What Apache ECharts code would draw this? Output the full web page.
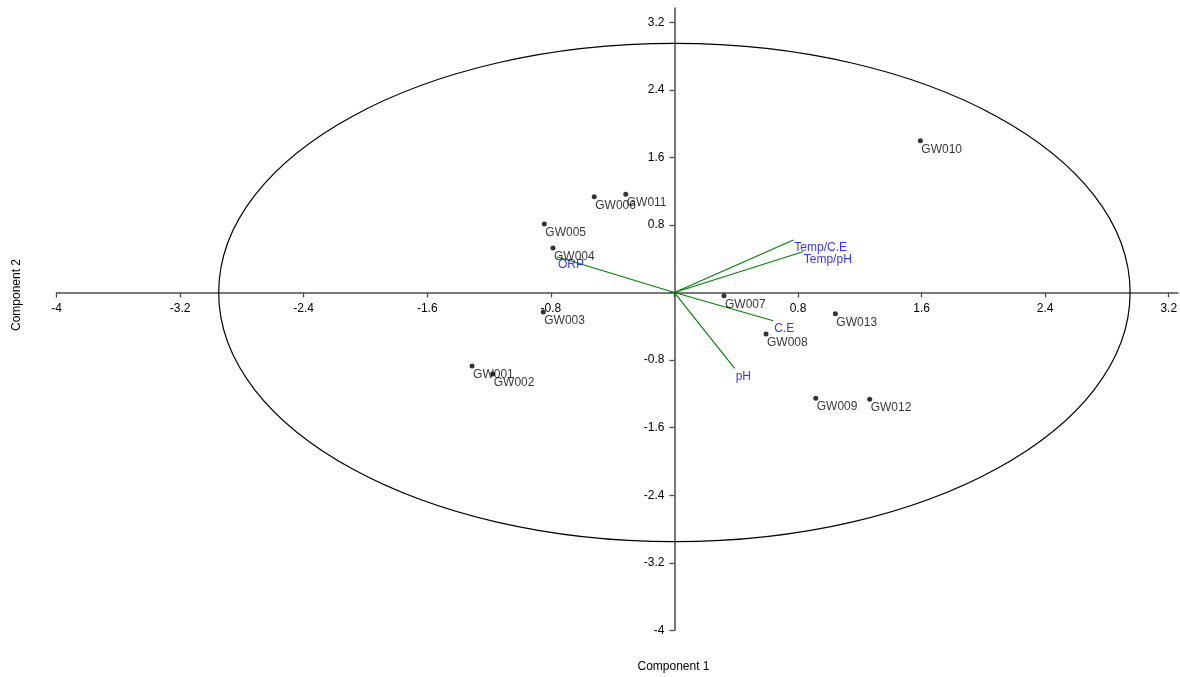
<!DOCTYPE html>
<html>
<head>
<meta charset="utf-8">
<script src="https://cdn.jsdelivr.net/npm/echarts@6/dist/echarts.min.js"></script>
<style>
html,body{margin:0;padding:0;background:#fff;}
#chart{width:1180px;height:677px;}
</style>
</head>
<body>
<div id="chart"></div>
<script>
// Sample scores (Component 1, Component 2)
const pointNames = ['GW001','GW002','GW003','GW004','GW005','GW006','GW007','GW008','GW009','GW010','GW011','GW012','GW013'];
const pointX = [-1.310,-1.176,-0.849,-0.786,-0.842,-0.519,0.321,0.593,0.915,1.592,-0.315,1.264,1.042];
const pointY = [-0.870,-0.965,-0.231,0.527,0.811,1.134,-0.038,-0.491,-1.253,1.797,1.163,-1.265,-0.251];

// Variable loadings (biplot vectors)
const varNames = ['Temp/C.E','Temp/pH','C.E','pH','ORP'];
const varX = [0.770,0.831,0.640,0.390,-0.760];
const varY = [0.622,0.483,-0.334,-0.898,0.425];

// Confidence ellipse radius (data units)
const ellipseRadius = 2.95;

// Axis ticks
const xTicks = [-4,-3.2,-2.4,-1.6,-0.8,0,0.8,1.6,2.4,3.2];
const yTicks = [-4,-3.2,-2.4,-1.6,-0.8,0,0.8,1.6,2.4,3.2];

const FONT = "'Liberation Sans', Arial, sans-serif";

const chart = echarts.init(document.getElementById('chart'), null, {renderer:'canvas'});

const scoreData = pointNames.map((n,i)=>({name:n, value:[pointX[i], pointY[i]]}));
const varData = varNames.map((n,i)=>({name:n, value:[varX[i], varY[i]]}));

const axisCommon = (ticks)=>({
  type:'value',
  splitLine:{show:false},
  axisLine:{onZero:false, lineStyle:{color:'#4d4d4d', width:1.5}},
  axisTick:{customValues:ticks, length:5, lineStyle:{color:'#4d4d4d', width:1.3}},
  axisLabel:{customValues:ticks, margin:10, color:'#000', fontSize:12, fontFamily:FONT,
    formatter:v=> v===0 ? '' : String(v)}
});

const option = {
  animation:false,
  backgroundColor:'#ffffff',
  grid:{left:56.5, right:2, top:8, bottom:46.7, containLabel:false, outerBoundsMode:'none'},
  xAxis:Object.assign(axisCommon(xTicks), {min:-4, max:3.26, position:'bottom', offset:0}),
  yAxis:Object.assign(axisCommon(yTicks), {min:-4, max:3.37, position:'left', offset:0}),
  graphic:[
    {type:'text', x:673.5, y:667, style:{text:'Component 1', fill:'#000', font:'12px '+FONT, textAlign:'center', textVerticalAlign:'middle'}},
    {type:'text', x:17, y:295, rotation:Math.PI/2, style:{text:'Component 2', fill:'#000', font:'12px '+FONT, textAlign:'center', textVerticalAlign:'middle'}}
  ],
  series:[
    {
      type:'custom', silent:true, clip:false,
      data:[[0,0,ellipseRadius]],
      renderItem:(params, api)=>{
        const c = api.coord([api.value(0), api.value(1)]);
        const s = api.size([api.value(2), api.value(2)]);
        return {type:'ellipse', shape:{cx:c[0], cy:c[1], rx:s[0], ry:s[1]},
          style:{fill:'none', stroke:'#000', lineWidth:1.2}};
      },
      z:1
    },
    {
      type:'custom', silent:true,
      data:varData,
      renderItem:(params, api)=>{
        const p0 = api.coord([0,0]);
        const p1 = api.coord([api.value(0), api.value(1)]);
        return {type:'line', shape:{x1:p0[0], y1:p0[1], x2:p1[0], y2:p1[1]},
          style:{stroke:'#008000', lineWidth:1.1}};
      },
      z:2
    },
    {
      type:'scatter', data:scoreData, symbolSize:5,
      itemStyle:{color:'#000'},
      label:{show:true, formatter:'{b}', position:[3.5,5], align:'left', verticalAlign:'top',
        color:'#000', fontSize:12, fontFamily:FONT},
      z:3
    },
    {
      type:'scatter', data:varData, symbolSize:2,
      itemStyle:{color:'rgba(0,0,0,0)'},
      label:{show:true, formatter:'{b}', position:[2,3], align:'left', verticalAlign:'top',
        color:'#0000ff', fontSize:12, fontFamily:FONT},
      z:4
    }
  ]
};
chart.setOption(option);

// Move both axes so they cross at the data origin (0,0), using the library's own scales.
const origin = chart.convertToPixel({gridIndex:0}, [0,0]);
const corner = chart.convertToPixel({gridIndex:0}, [-4,-4]);
chart.setOption({
  xAxis:{offset: -(corner[1]-origin[1])},
  yAxis:{offset: -(origin[0]-corner[0])}
});
</script>
</body>
</html>
